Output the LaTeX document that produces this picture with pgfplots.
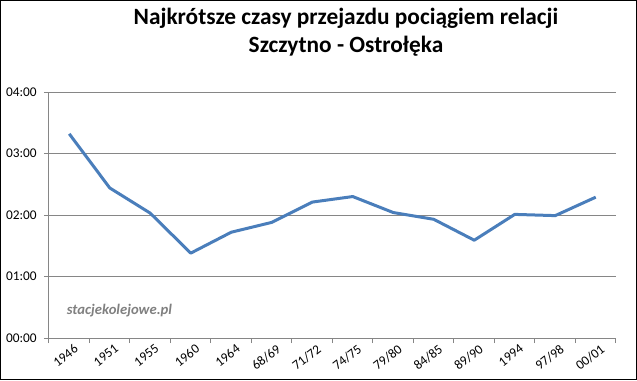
\documentclass[border=0pt]{standalone}
\usepackage{pgfplots}
\pgfplotsset{compat=1.18}
\usepackage{fontspec}
\setmainfont{Carlito}
\definecolor{lineblue}{RGB}{74,126,187}
\definecolor{gridgray}{RGB}{134,134,134}
\definecolor{wmgray}{RGB}{128,128,128}
\begin{document}
\begin{tikzpicture}
\useasboundingbox (0pt,0pt) rectangle (477.75pt,285pt);
\draw[line width=0.75pt] (0.375pt,0.375pt) rectangle (477.375pt,284.625pt);
\node[font=\fontsize{17.5}{21}\selectfont\bfseries, align=center] at (259.5pt,261pt) {Najkrótsze czasy przejazdu pociągiem relacji\\Szczytno - Ostrołęka};
\begin{axis}[
  at={(36.75pt,31.5pt)}, anchor=south west, scale only axis,
  width=425.25pt, height=184.5pt,
  xmin=0, xmax=14, ymin=0, ymax=4,
  axis x line*=bottom, axis y line*=left,
  axis line style={gridgray, line width=0.75pt},
  xtick={0,...,14}, xticklabels={},
  extra x ticks={0.5,1.5,2.5,3.5,4.5,5.5,6.5,7.5,8.5,9.5,10.5,11.5,12.5,13.5},
  extra x tick labels={1946,1951,1955,1960,1964,68/69,71/72,74/75,79/80,84/85,89/90,1994,97/98,00/01},
  extra x tick style={major tick length=0pt, tick label style={rotate=38, anchor=north east, inner sep=1pt, yshift=-4pt, xshift=1pt}},
  ytick={0,1,2,3,4}, yticklabels={00:00,01:00,02:00,03:00,04:00},
  ymajorgrids, grid style={gridgray, line width=0.75pt},
  tick align=outside, major tick length=3.75pt,
  tick style={gridgray, line width=0.75pt},
  tick label style={font=\fontsize{10}{12}\selectfont},
  yticklabel style={xshift=-2pt},
  clip=false,
]
\addplot[lineblue, line width=2.25pt, line join=round, mark=none] coordinates {
 (0.5,3.32) (1.5,2.44) (2.5,2.03) (3.5,1.38) (4.5,1.72) (5.5,1.88) (6.5,2.21)
 (7.5,2.30) (8.5,2.04) (9.5,1.93) (10.5,1.59) (11.5,2.01) (12.5,1.99) (13.5,2.29)
};
\end{axis}
\node[font=\fontsize{11}{13}\selectfont\bfseries\itshape, text=wmgray] at (89.625pt,51.75pt) {stacjekolejowe.pl};
\end{tikzpicture}
\end{document}
